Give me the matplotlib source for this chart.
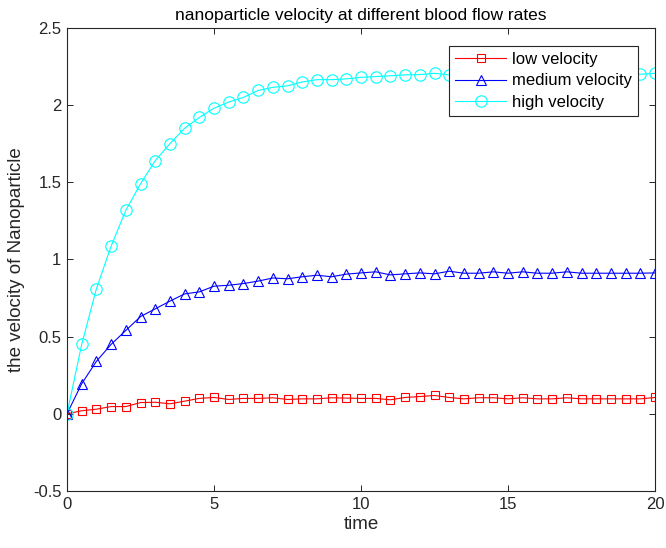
import matplotlib
matplotlib.use("Agg")
import matplotlib.pyplot as plt
import numpy as np

plt.rcParams['font.family'] = ['Liberation Sans', 'DejaVu Sans']

# time samples every 0.5 from 0 to 20
time = [0, 0.5, 1, 1.5, 2, 2.5, 3, 3.5, 4, 4.5, 5, 5.5, 6, 6.5, 7, 7.5, 8, 8.5, 9, 9.5,
        10, 10.5, 11, 11.5, 12, 12.5, 13, 13.5, 14, 14.5, 15, 15.5, 16, 16.5, 17, 17.5,
        18, 18.5, 19, 19.5, 20]

low_velocity = [0, 0.02, 0.03, 0.047, 0.047, 0.073, 0.075, 0.065, 0.082, 0.1, 0.106,
                0.093, 0.1, 0.1, 0.104, 0.093, 0.097, 0.097, 0.104, 0.102, 0.1, 0.1,
                0.091, 0.106, 0.112, 0.119, 0.106, 0.097, 0.104, 0.104, 0.097, 0.104,
                0.097, 0.097, 0.104, 0.097, 0.097, 0.097, 0.097, 0.097, 0.106]

medium_velocity = [0, 0.195, 0.34, 0.45, 0.54, 0.63, 0.68, 0.73, 0.777, 0.79, 0.827,
                   0.833, 0.844, 0.86, 0.88, 0.875, 0.888, 0.898, 0.888, 0.905, 0.913,
                   0.92, 0.9, 0.907, 0.913, 0.907, 0.924, 0.911, 0.911, 0.92, 0.911,
                   0.92, 0.911, 0.911, 0.92, 0.911, 0.911, 0.911, 0.911, 0.911, 0.913]

high_velocity = [0, 0.45, 0.81, 1.086, 1.318, 1.49, 1.64, 1.75, 1.85, 1.92, 1.98, 2.02,
                 2.05, 2.095, 2.115, 2.125, 2.15, 2.165, 2.165, 2.17, 2.18, 2.185, 2.19,
                 2.196, 2.198, 2.206, 2.196, 2.2, 2.2, 2.205, 2.2, 2.198, 2.2, 2.203,
                 2.2, 2.198, 2.2, 2.2, 2.2, 2.2, 2.206]

yticks = [-0.5, 0, 0.5, 1, 1.5, 2, 2.5]
ytick_labels = ['-0.5', '0', '0.5', '1', '1.5', '2', '2.5']
xticks = [0, 5, 10, 15, 20]

axis_color = '#262626'

fig = plt.figure(figsize=(6.66, 5.48), dpi=100)
ax = fig.add_axes([0.1006, 0.104, 0.8829, 0.845])

ax.plot(time, low_velocity, color='#ff0000', marker='s', markersize=5.2,
        markerfacecolor='none', markeredgewidth=0.8, linewidth=0.8, label='low velocity')
ax.plot(time, medium_velocity, color='#0000ff', marker='^', markersize=7.5,
        markerfacecolor='none', markeredgewidth=0.8, linewidth=0.8, label='medium velocity')
ax.plot(time, high_velocity, color='#00ffff', marker='o', markersize=8.2,
        markerfacecolor='none', markeredgewidth=0.8, linewidth=0.8, label='high velocity')

ax.set_xlim(0, 20)
ax.set_ylim(-0.5, 2.5)
ax.set_xticks(xticks)
ax.set_xticklabels([str(t) for t in xticks])
ax.set_yticks(yticks)
ax.set_yticklabels(ytick_labels)

ax.tick_params(direction='in', length=4, width=0.7, top=True, right=True,
               colors=axis_color, labelsize=12, pad=4)
for s in ax.spines.values():
    s.set_color(axis_color)
    s.set_linewidth(0.8)

ax.set_xlabel('time', fontsize=13.5, color=axis_color, labelpad=3)
ax.set_ylabel('the velocity of Nanoparticle', fontsize=13.5, color=axis_color, labelpad=6)
ax.set_title('nanoparticle velocity at different blood flow rates', fontsize=12.5,
             color='black', pad=6)

leg = ax.legend(loc='upper right', fontsize=12, fancybox=False, framealpha=1,
                edgecolor=axis_color, handlelength=3.1, handletextpad=0.35,
                borderpad=0.35, labelspacing=0.4, borderaxespad=0.0,
                bbox_to_anchor=(0.9711, 0.9611))
leg.get_frame().set_linewidth(0.8)

fig.savefig('out.png', dpi=100)
